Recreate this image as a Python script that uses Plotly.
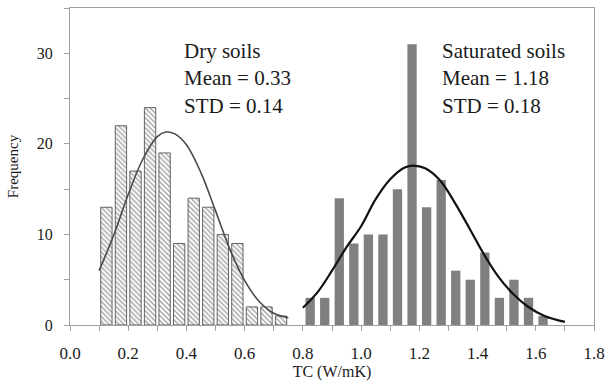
import plotly.graph_objects as go

# Dry soils histogram (bin centers, counts)
dry_x = [0.125, 0.175, 0.225, 0.275, 0.325, 0.375, 0.425, 0.475, 0.525, 0.575, 0.625, 0.675, 0.725]
dry_y = [13, 22, 17, 24, 19, 9, 14, 13, 10, 9, 2, 2, 1]

# Saturated soils histogram
sat_x = [0.825, 0.875, 0.925, 0.975, 1.025, 1.075, 1.125, 1.175, 1.225, 1.275,
         1.325, 1.375, 1.425, 1.475, 1.525, 1.575, 1.625]
sat_y = [3, 3, 14, 9, 10, 10, 15, 31, 13, 16, 6, 5, 8, 3, 5, 3, 1]

# Fitted normal curves
dry_cx = [0.10, 0.15, 0.20, 0.25, 0.30, 0.33, 0.36, 0.40, 0.45, 0.50, 0.55, 0.60, 0.65, 0.70, 0.75]
dry_cy = [6.0, 9.9, 14.4, 18.3, 20.8, 21.3, 21.1, 19.9, 16.8, 12.6, 8.3, 4.9, 2.6, 1.3, 0.8]

sat_cx = [0.80, 0.85, 0.90, 0.95, 1.00, 1.05, 1.10, 1.15, 1.18, 1.22, 1.27, 1.32, 1.37, 1.42, 1.47, 1.52, 1.57, 1.63, 1.70]
sat_cy = [1.9, 3.6, 6.0, 8.6, 10.9, 13.9, 16.1, 17.4, 17.6, 17.3, 16.0, 13.6, 10.8, 7.9, 5.4, 3.5, 2.1, 1.0, 0.35]

serif = "Liberation Serif"
txt = "#1a1a1a"

fig = go.Figure()
fig.add_trace(go.Bar(
    x=dry_x, y=dry_y, width=0.039,
    marker=dict(color="white", line=dict(color="#555555", width=0.9),
                pattern=dict(shape="\\", fgcolor="#444444", bgcolor="white", size=3.5, solidity=0.4)),
    showlegend=False))
fig.add_trace(go.Bar(
    x=sat_x, y=sat_y, width=0.032,
    marker=dict(color="#808080", line=dict(width=0)),
    showlegend=False))
fig.add_trace(go.Scatter(
    x=dry_cx, y=dry_cy, mode="lines", line=dict(color="#4a4a4a", width=1.6, shape="spline"),
    showlegend=False))
fig.add_trace(go.Scatter(
    x=sat_cx, y=sat_cy, mode="lines", line=dict(color="#111111", width=2.2, shape="spline"),
    showlegend=False))

fig.add_annotation(x=0.384, y=31.8, xref="x", yref="y", xanchor="left", yanchor="top",
                   text="Dry soils<br>Mean = 0.33<br>STD = 0.14", showarrow=False, align="left",
                   font=dict(family=serif, size=21, color=txt))
fig.add_annotation(x=1.27, y=31.8, xref="x", yref="y", xanchor="left", yanchor="top",
                   text="Saturated soils<br>Mean = 1.18<br>STD = 0.18", showarrow=False, align="left",
                   font=dict(family=serif, size=21, color=txt))

axis_col = "#a0a0a0"
fig.update_layout(
    width=612, height=388,
    margin=dict(l=70, r=12, t=7, b=63),
    paper_bgcolor="white", plot_bgcolor="white",
    barmode="overlay",
    font=dict(family=serif, color=txt),
    xaxis=dict(range=[0, 1.8], dtick=0.2, tick0=0, tickformat=".1f",
               showgrid=False, zeroline=False, showline=True, linecolor=axis_col, linewidth=1,
               mirror=True, ticks="outside", ticklen=5, tickcolor=axis_col,
               minor=dict(dtick=0.1, ticks="outside", ticklen=5, tickcolor=axis_col),
               ticklabelstandoff=8,
               tickfont=dict(family=serif, size=17, color=txt),
               title=dict(text="TC (W/mK)", font=dict(family=serif, size=16, color=txt), standoff=2)),
    yaxis=dict(range=[0, 35], dtick=10, tick0=0,
               showgrid=False, zeroline=False, showline=True, linecolor=axis_col, linewidth=1,
               mirror=True, ticks="outside", ticklen=5, tickcolor=axis_col,
               minor=dict(dtick=5, ticks="outside", ticklen=5, tickcolor=axis_col),
               ticklabelstandoff=8,
               tickfont=dict(family=serif, size=16, color=txt),
               title=dict(text="Frequency", font=dict(family=serif, size=15, color=txt), standoff=14)),
)

fig.write_html("out.html")
